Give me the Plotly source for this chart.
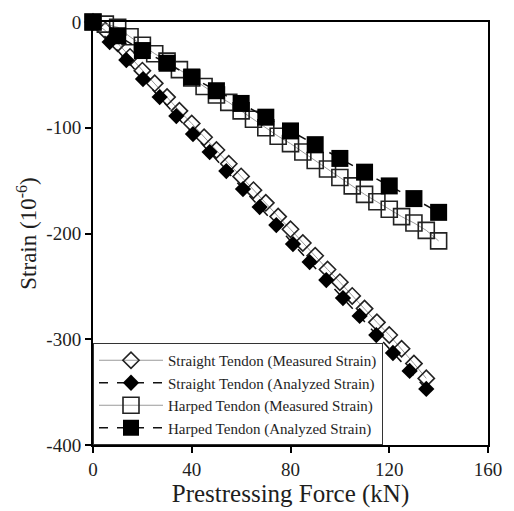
import plotly.graph_objects as go

# Prestressing force (kN) and measured / analyzed strain (x10^-6)
straight_meas_force = [0, 5, 10, 15, 20, 25, 30, 35, 40, 45, 50, 55, 60, 65, 70,
                       75, 80, 85, 90, 95, 100, 105, 110, 115, 120, 125, 130, 135]
straight_meas_strain = [0, -8, -20, -33, -46, -58, -71, -84, -96, -109, -121, -134, -146, -159, -171,
                        -184, -196, -209, -221, -234, -246, -259, -271, -284, -296, -309, -323, -337]

straight_anal_force = [0, 6.75, 13.5, 20.25, 27, 33.75, 40.5, 47.25, 54, 60.75, 67.5,
                       74.25, 81, 87.75, 94.5, 101.25, 108, 114.75, 121.5, 128.25, 135]
straight_anal_strain = [0, -19, -36, -54, -71, -89, -106, -123, -141, -158, -175,
                        -192, -210, -227, -244, -261, -278, -296, -313, -330, -347]

harped_meas_force = [0, 5, 10, 15, 20, 25, 30, 35, 40, 45, 50, 55, 60, 65, 70,
                     75, 80, 85, 90, 95, 100, 105, 110, 115, 120, 125, 130, 135, 140]
harped_meas_strain = [0, -2, -5, -14, -22, -30, -37, -45, -53, -61, -69, -76, -84, -92, -100,
                      -108, -115, -123, -131, -139, -147, -155, -163, -170, -177, -184, -190, -197, -207]

harped_anal_force = [0, 10, 20, 30, 40, 50, 60, 70, 80, 90, 100, 110, 120, 130, 140]
harped_anal_strain = [0, -13, -27, -39, -52, -65, -77, -90, -103, -116, -129, -142, -155, -167, -180]

x_tick_vals = [0, 40, 80, 120, 160]
x_tick_text = ["0", "40", "80", "120", "160"]
y_tick_vals = [0, -100, -200, -300, -400]
y_tick_text = ["0", "-100", "-200", "-300", "-400"]

FONT = "Liberation Serif"
TEXT = "#1e1e1e"

fig = go.Figure()

fig.add_trace(go.Scatter(
    x=straight_meas_force, y=straight_meas_strain, mode="lines+markers",
    name="Straight Tendon (Measured Strain)",
    line=dict(color="#9a9a9a", width=1),
    marker=dict(symbol="diamond-open", size=12.5, color="#222222", line=dict(width=1.6)),
    cliponaxis=False,
))
fig.add_trace(go.Scatter(
    x=straight_anal_force, y=straight_anal_strain, mode="lines+markers",
    name="Straight Tendon (Analyzed Strain)",
    line=dict(color="#111111", width=1.5, dash="dash"),
    marker=dict(symbol="diamond", size=12.5, color="#000000"),
    cliponaxis=False,
))
fig.add_trace(go.Scatter(
    x=harped_meas_force, y=harped_meas_strain, mode="lines+markers",
    name="Harped Tendon (Measured Strain)",
    line=dict(color="#9a9a9a", width=1),
    marker=dict(symbol="square-open", size=16, color="#222222", line=dict(width=1.6)),
    cliponaxis=False,
))
fig.add_trace(go.Scatter(
    x=harped_anal_force, y=harped_anal_strain, mode="lines+markers",
    name="Harped Tendon (Analyzed Strain)",
    line=dict(color="#111111", width=1.5, dash="dash"),
    marker=dict(symbol="square", size=17, color="#000000"),
    cliponaxis=False,
))

axis_common = dict(
    showline=True, linecolor="black", linewidth=2, mirror=True,
    ticks="outside", ticklen=6, tickwidth=2, tickcolor="black",
    showgrid=False, zeroline=False,
    tickfont=dict(family=FONT, size=19, color=TEXT),
)

fig.update_layout(
    width=514, height=511,
    margin=dict(l=93, r=16, t=17, b=66),
    paper_bgcolor="white", plot_bgcolor="white",
    font=dict(family=FONT, color=TEXT),
    xaxis=dict(range=[0, 160], tickvals=x_tick_vals, ticktext=x_tick_text,
               title=dict(text="Prestressing Force (kN)", font=dict(family=FONT, size=25, color=TEXT), standoff=2),
               **axis_common),
    yaxis=dict(range=[-400, 0], tickvals=y_tick_vals, ticktext=y_tick_text,
               title=dict(text="Strain (10<sup>-6</sup>)", font=dict(family=FONT, size=23, color=TEXT), standoff=3),
               **axis_common),
    legend=dict(x=0, y=0, xanchor="left", yanchor="bottom",
                bgcolor="white", bordercolor="#333333", borderwidth=1,
                font=dict(family=FONT, size=15, color=TEXT),
                tracegroupgap=0, itemwidth=64),
    showlegend=True,
)

fig.write_html("out.html")
